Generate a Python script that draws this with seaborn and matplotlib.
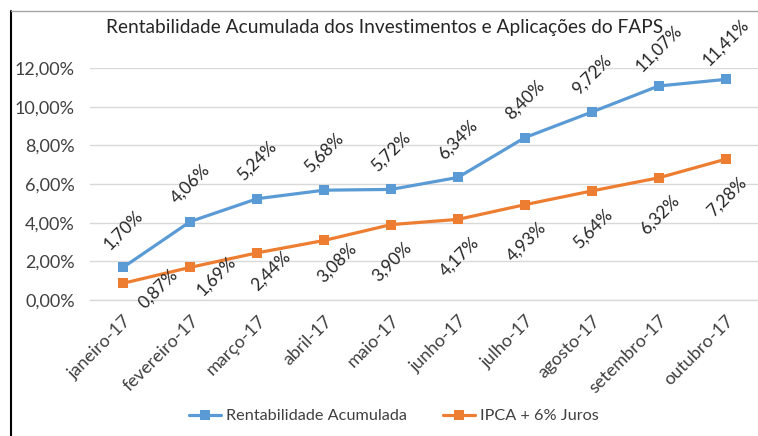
import matplotlib
matplotlib.use("Agg")
import matplotlib.pyplot as plt
import matplotlib.ticker as mticker
import seaborn as sns
import pandas as pd

# dados
meses = ["janeiro-17", "fevereiro-17", "março-17", "abril-17", "maio-17",
         "junho-17", "julho-17", "agosto-17", "setembro-17", "outubro-17"]
rentabilidade = [1.70, 4.06, 5.24, 5.68, 5.72, 6.34, 8.40, 9.72, 11.07, 11.41]
ipca_juros = [0.87, 1.69, 2.44, 3.08, 3.90, 4.17, 4.93, 5.64, 6.32, 7.28]
series = ["Rentabilidade Acumulada", "IPCA + 6% Juros"]

df = pd.DataFrame({
    "mes": meses * 2,
    "valor": rentabilidade + ipca_juros,
    "serie": [series[0]] * len(meses) + [series[1]] * len(meses),
})

sns.set_style("white")
plt.rcParams["font.family"] = ["Lato", "DejaVu Sans"]

cores = ["#5B9BD5", "#ED7D31"]

fig = plt.figure(figsize=(7.58, 4.36), dpi=100)
ax = fig.add_axes([90 / 758, 1 - 300 / 436, 669 / 758, 232 / 436])

sns.lineplot(data=df, x="mes", y="valor", hue="serie", style="serie",
             palette=cores, markers=["s", "s"], dashes=False, sort=False,
             linewidth=2.3, markersize=7.5, markeredgewidth=0, ax=ax, legend=True)

ax.set_ylim(0, 12)
ax.set_xlim(-0.5, len(meses) - 0.5)
ax.yaxis.set_major_locator(mticker.MultipleLocator(2))
ax.yaxis.set_major_formatter(mticker.FuncFormatter(lambda v, p: f"{v:.2f}%".replace(".", ",")))
ax.grid(axis="y", color="#D9D9D9", linewidth=1)
ax.set_axisbelow(True)
for s in ["top", "right", "left"]:
    ax.spines[s].set_visible(False)
ax.spines["bottom"].set_color("#D9D9D9")
ax.spines["bottom"].set_linewidth(1)

ax.set_xticks(range(len(meses)))
ax.set_xticklabels(meses, rotation=45, ha="right", rotation_mode="anchor",
                   fontsize=13, color="#404040")
ax.set_xticks([i - 0.5 for i in range(len(meses) + 1)], minor=True)
ax.tick_params(axis="x", which="major", length=0, pad=9)
ax.tick_params(axis="x", which="minor", length=5, color="#D9D9D9", width=1)
ax.tick_params(axis="y", length=0, labelsize=13, labelcolor="#404040", pad=11)
ax.set_xlabel("")
ax.set_ylabel("")

# rótulos de dados
fmt = lambda v: f"{v:.2f}%".replace(".", ",")
for i, v in enumerate(rentabilidade):
    ax.annotate(fmt(v), (i, v), xytext=(0, 27), textcoords="offset points",
                rotation=45, ha="center", va="center", fontsize=12.5, color="#262626")
desloc_laranja = [(25, -4), (19, -6), (10, -13), (9, -16)] + [(1, -27)] * 6
for i, v in enumerate(ipca_juros):
    dx, dy = desloc_laranja[i]
    ax.annotate(fmt(v), (i, v), xytext=(dx, dy), textcoords="offset points",
                rotation=45, ha="center", va="center", fontsize=12.5, color="#262626")

ax.get_legend().remove()
h, l = ax.get_legend_handles_labels()
fig.legend(h, l, loc="center", bbox_to_anchor=(394 / 758, 1 - 416 / 436), ncol=2,
           frameon=False, fontsize=11.7, handlelength=2.0, columnspacing=2.2,
           handletextpad=0.3, labelcolor="#404040")

fig.text(385 / 758, 1 - 27 / 436,
         "Rentabilidade Acumulada dos Investimentos e Aplicações do FAPS",
         ha="center", va="center", fontsize=13.8, color="#262626")

# moldura parcial
fig.add_artist(plt.Line2D([11 / 758, 11 / 758], [0, 1 - 11 / 436],
                          transform=fig.transFigure, color="black", linewidth=1.5))
fig.add_artist(plt.Line2D([11 / 758, 1], [1 - 11 / 436, 1 - 11 / 436],
                          transform=fig.transFigure, color="#A6A6A6", linewidth=1))

fig.savefig("out.png", dpi=100)
